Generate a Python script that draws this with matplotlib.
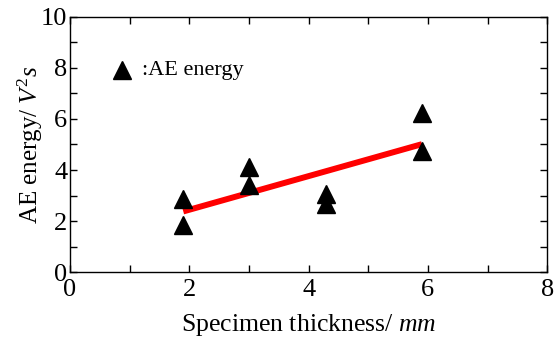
import numpy as np
import matplotlib
matplotlib.use("Agg")
import matplotlib.pyplot as plt
from matplotlib.ticker import MultipleLocator

plt.rcParams['font.family'] = ['Liberation Serif', 'DejaVu Serif']
plt.rcParams['mathtext.fontset'] = 'custom'
plt.rcParams['mathtext.rm'] = 'Liberation Serif'
plt.rcParams['mathtext.it'] = 'Liberation Serif:italic'

thickness = [1.9, 1.9, 3.0, 3.0, 4.3, 4.3, 5.9, 5.9]
ae_energy = [2.85, 1.85, 4.1, 3.4, 3.05, 2.65, 6.25, 4.75]
legend_pos = (0.87, 7.9)

fig = plt.figure(figsize=(5.55, 3.38), dpi=100)
ax = fig.add_axes([0.126, 0.195, 0.86, 0.755])

x = np.array(thickness)
y = np.array(ae_energy)
k, b = np.polyfit(x, y, 1)
xf = np.array([x.min(), x.max()])
ax.plot(xf, k * xf + b, color='#ff0000', lw=4.3, solid_capstyle='butt', zorder=2)
ax.plot(x, y, linestyle='none', marker='^', ms=13, color='black', zorder=3)

ax.plot([legend_pos[0]], [legend_pos[1]], linestyle='none', marker='^', ms=13, color='black')
ax.text(legend_pos[0] + 0.33, legend_pos[1], ':AE energy', fontsize=16, va='center', ha='left')

ax.set_xlim(0, 8)
ax.set_ylim(0, 10)
ax.xaxis.set_major_locator(MultipleLocator(2))
ax.xaxis.set_minor_locator(MultipleLocator(1))
ax.yaxis.set_major_locator(MultipleLocator(2))
ax.yaxis.set_minor_locator(MultipleLocator(1))
ax.tick_params(which='both', direction='in', top=True, right=True, width=1)
ax.tick_params(which='major', length=5, labelsize=19)
ax.tick_params(axis='x', which='major', pad=5)
ax.tick_params(axis='y', which='major', pad=2)
ax.tick_params(which='minor', length=5)
for s in ax.spines.values():
    s.set_linewidth(1)

ax.set_xlabel('Specimen thickness/ $mm$', fontsize=18.5, labelpad=8)
ax.set_ylabel('AE energy/ $V^{\\mathrm{2}}s$', fontsize=18, labelpad=-3)

fig.savefig('out.png', dpi=100)
